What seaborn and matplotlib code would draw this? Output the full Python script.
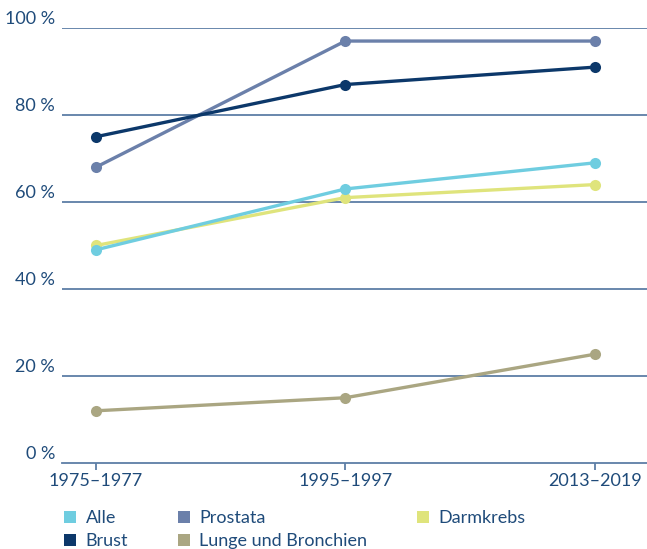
import matplotlib.pyplot as plt
import pandas as pd
import seaborn as sns
from matplotlib.lines import Line2D

# Survival rates (%) by diagnosis period
periods = ["1975–1977", "1995–1997", "2013–2019"]
alle = [49, 63, 69]
prostata = [68, 97, 97]
darmkrebs = [50, 61, 64]
brust = [75, 87, 91]
lunge = [12, 15, 25]

series = {
    "Alle": alle,
    "Prostata": prostata,
    "Darmkrebs": darmkrebs,
    "Brust": brust,
    "Lunge und Bronchien": lunge,
}
palette = {
    "Alle": "#6fcde0",
    "Prostata": "#6b80aa",
    "Darmkrebs": "#dfe47c",
    "Brust": "#0c386a",
    "Lunge und Bronchien": "#aaa682",
}
text_color = "#1f4b7a"
grid_color = "#5d7ea6"

rows = []
for name, values in series.items():
    for i, v in enumerate(values):
        rows.append({"pos": i, "Zeitraum": periods[i], "Wert": v, "Gruppe": name})
df = pd.DataFrame(rows)

sns.set_style("white")
plt.rcParams["font.family"] = ["Lato", "DejaVu Sans"]

fig = plt.figure(figsize=(6.47, 5.49), dpi=100)
ax = fig.add_axes([62 / 647, 86 / 549, 1 - 62 / 647, (463 - 28) / 549])

# gridlines
for y in range(20, 101, 20):
    ax.axhline(y, color=grid_color, linewidth=1.3, zorder=0)

# draw back-to-front like the reference
order = ["Lunge und Bronchien", "Darmkrebs", "Alle", "Prostata", "Brust"]
for name in order:
    sub = df[df["Gruppe"] == name]
    sns.lineplot(data=sub, x="pos", y="Wert", color=palette[name],
                 marker="o", markersize=8, markeredgewidth=0,
                 linewidth=2.4, ax=ax, clip_on=False, legend=False)

ax.set_xlim(-0.136, 2.21)
ax.set_ylim(0, 100)
ax.set_xlabel("")
ax.set_ylabel("")

for side in ["top", "right", "left"]:
    ax.spines[side].set_visible(False)
ax.spines["bottom"].set_color(grid_color)
ax.spines["bottom"].set_linewidth(1.3)

ax.set_xticks(range(len(periods)))
ax.set_xticklabels(periods, fontsize=13, color=text_color)
ax.tick_params(axis="x", length=5, width=1.3, color=grid_color, pad=2,
               direction="out", bottom=True)

ax.set_yticks([])
for y in range(0, 101, 20):
    ax.text(-0.012, y + 0.3, f"{y} %", transform=ax.get_yaxis_transform(),
            ha="right", va="bottom", fontsize=13, color=text_color)

# legend: column-major fill -> Alle/Brust, Prostata/Lunge, Darmkrebs
legend_order = ["Alle", "Brust", "Prostata", "Lunge und Bronchien", "Darmkrebs"]
handles = [Line2D([], [], linestyle="none", marker="s", markersize=9,
                  markerfacecolor=palette[n], markeredgewidth=0)
           for n in legend_order]
leg = fig.legend(handles, legend_order, loc="upper left",
                 bbox_to_anchor=(63 / 647, 1 - 510 / 549), ncol=3,
                 frameon=False, fontsize=13, handlelength=0.8,
                 handletextpad=0.45, columnspacing=2.7, labelspacing=0.4,
                 borderaxespad=0, borderpad=0)
for t in leg.get_texts():
    t.set_color(text_color)

plt.savefig("out.png", dpi=100)
